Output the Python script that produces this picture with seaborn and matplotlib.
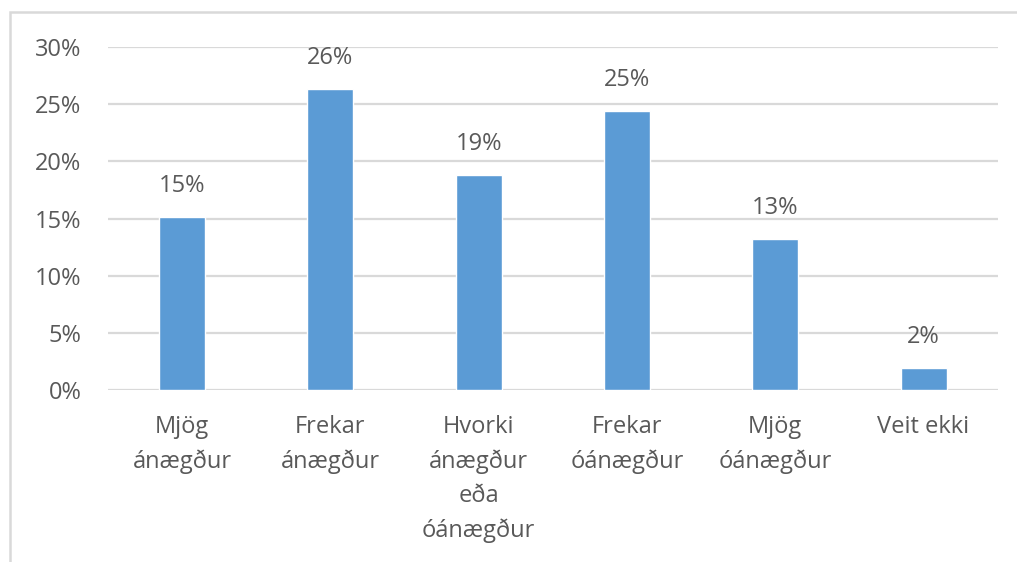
import matplotlib
matplotlib.use("Agg")
import matplotlib.pyplot as plt
import seaborn as sns
import pandas as pd
from matplotlib.patches import Rectangle

categories = ["Mjög\nánægður", "Frekar\nánægður", "Hvorki\nánægður\neða\nóánægður",
              "Frekar\nóánægður", "Mjög\nóánægður", "Veit ekki"]
shares = [15.1, 26.3, 18.8, 24.4, 13.2, 1.9]
value_labels = ["15%", "26%", "19%", "25%", "13%", "2%"]
y_ticks = [0, 5, 10, 15, 20, 25, 30]

df = pd.DataFrame({"cat": categories, "share": shares})

sns.set_style("white")
plt.rcParams["font.family"] = ["Open Sans", "DejaVu Sans"]
text_col = "#595959"
grid_col = "#d9d9d9"
fs = 17

fig = plt.figure(figsize=(10.17, 5.62), dpi=100)
ax = fig.add_axes([0.106, 0.306, 0.875, 0.610])

sns.barplot(data=df, x="cat", y="share", color="#5b9bd5", saturation=1,
            width=0.31, ax=ax, zorder=3)

ax.set_ylim(0, 30)
ax.set_yticks(y_ticks)
ax.set_yticklabels([f"{t}%" for t in y_ticks])
ax.yaxis.grid(True, color=grid_col, lw=1.6, zorder=0)
ax.set_axisbelow(True)
sns.despine(ax=ax, left=True, bottom=True, top=True, right=True)
ax.set_xlabel("")
ax.set_ylabel("")
ax.tick_params(axis="y", length=0, pad=19, labelsize=fs, labelcolor=text_col)
ax.tick_params(axis="x", length=0, pad=18, labelsize=fs, labelcolor=text_col)
for lab in ax.get_xticklabels():
    lab.set_linespacing(1.55)

for i, (v, lbl) in enumerate(zip(shares, value_labels)):
    ax.annotate(lbl, (i, v), xytext=(0, 14), textcoords="offset points",
                ha="center", va="bottom", fontsize=fs, color=text_col)

fig.patches.append(Rectangle((10 / 1017, -0.1), 1.2, 1 - 12 / 562 + 0.1,
                             transform=fig.transFigure, fill=False,
                             edgecolor=grid_col, lw=1.8))

fig.savefig("out.png", dpi=100, facecolor="white")
